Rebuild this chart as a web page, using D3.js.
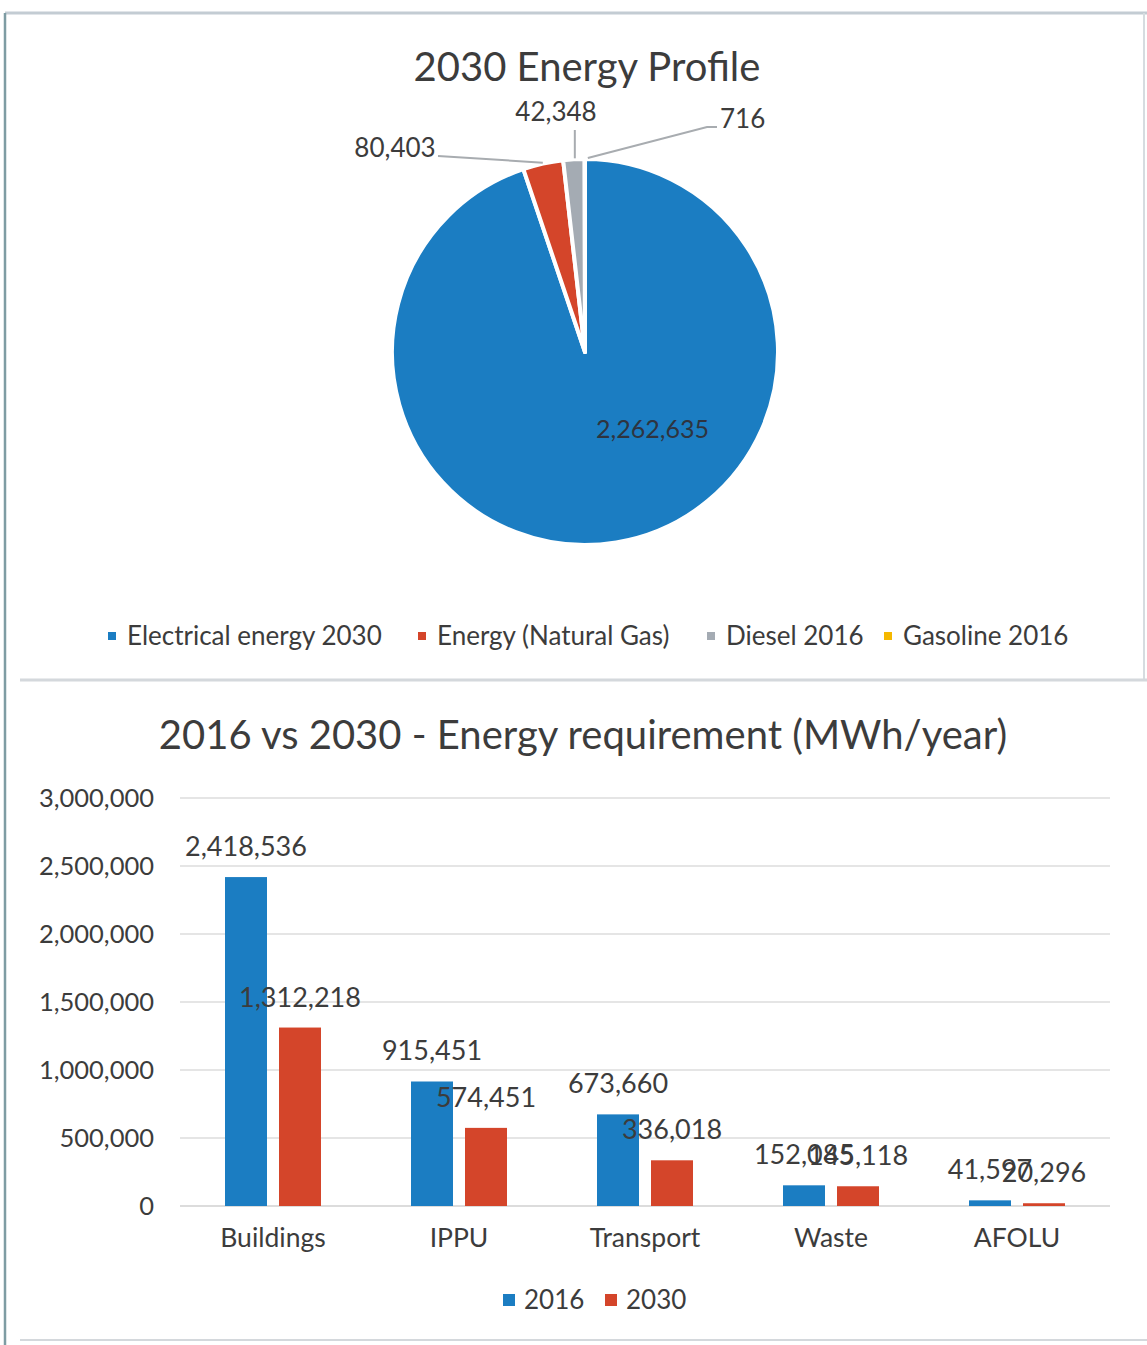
<!DOCTYPE html>
<html><head><meta charset="utf-8">
<script src="https://cdn.jsdelivr.net/npm/d3@7"></script>
<style>
html,body{margin:0;padding:0;background:#fff;}
svg{display:block;font-family:Lato,"Open Sans",sans-serif;}
</style></head>
<body>
<svg id="c" width="1147" height="1345"></svg>
<script>
// ---------- DATA ----------
const pieLabels = ["Electrical energy 2030", "Energy (Natural Gas)", "Diesel 2016", "Gasoline 2016"];
const pieValues = [2262635, 80403, 42348, 716];
const pieColors = ["#1b7dc2", "#d4452a", "#a4abb3", "#f5b800"];

const categories = ["Buildings", "IPPU", "Transport", "Waste", "AFOLU"];
const series = ["2016", "2030"];
const values2016 = [2418536, 915451, 673660, 152085, 41597];
const values2030 = [1312218, 574451, 336018, 145118, 20296];
const seriesColors = ["#1b7dc2", "#d4452a"];
const yTicks = [0, 500000, 1000000, 1500000, 2000000, 2500000, 3000000];

const svg = d3.select("#c");
const txt = "#3c3c3c";
const fmt = d3.format(",");
const FF = "Lato,'Open Sans',sans-serif";

// ---------- FRAME ----------
svg.append("line").attr("x1",5).attr("x2",1147).attr("y1",13).attr("y2",13).attr("stroke","#c3ccd3").attr("stroke-width",3);
svg.append("line").attr("x1",5).attr("x2",5).attr("y1",13).attr("y2",1345).attr("stroke","#7e9ca3").attr("stroke-width",2.5);
svg.append("line").attr("x1",1144).attr("x2",1144).attr("y1",13).attr("y2",680).attr("stroke","#d6dce0").attr("stroke-width",2);
svg.append("line").attr("x1",20).attr("x2",1147).attr("y1",680).attr("y2",680).attr("stroke","#d4d8dc").attr("stroke-width",3);
svg.append("line").attr("x1",20).attr("x2",1147).attr("y1",1340).attr("y2",1340).attr("stroke","#d4d8dc").attr("stroke-width",2);

// ---------- PIE ----------
svg.append("text").attr("x",587).attr("y",81).attr("text-anchor","middle")
  .attr("font-size",40).attr("fill",txt).text("2030 Energy Profile");

const cx = 585, cy = 352, R = 193;
const pie = d3.pie().sort(null).value(d=>d)(pieValues);
const arc = d3.arc().innerRadius(0).outerRadius(R);
const gp = svg.append("g").attr("transform",`translate(${cx},${cy})`);
gp.selectAll("path").data(pie).join("path")
  .attr("d",arc).attr("fill",(d,i)=>pieColors[i])
  .attr("stroke","#fff").attr("stroke-width",4).attr("stroke-linejoin","round");

// big label inside
gp.append("text").attr("x",R*0.35).attr("y",R*0.40+9).attr("text-anchor","middle")
  .attr("font-size",25).attr("fill","#2e3440").text(fmt(pieValues[0]));

// outside labels with leader lines
const outer = d3.arc().innerRadius(R+1).outerRadius(R+1);
const labelPos = [null, {x:-190,y:-204,anchor:"middle", lx:-147, ly:-196},
                        {x:-29,y:-240,anchor:"middle", lx:-10, ly:-222},
                        {x:135,y:-233,anchor:"start", lx:132, ly:-225}];
pie.forEach((d,i)=>{
  if(i===0) return;
  const p = outer.centroid(d);
  const L = labelPos[i];
  let pts;
  if(i===3) pts = [[L.lx,L.ly],[L.lx-10,L.ly],[p[0]+3,p[1]]];
  else if(i===2) pts = [[p[0]+1,L.ly],[p[0]+1,p[1]]];
  else pts = [[L.lx,L.ly],[p[0],p[1]]];
  gp.append("path").attr("d",d3.line()(pts)).attr("fill","none")
    .attr("stroke","#a8acb0").attr("stroke-width",2);
  gp.append("text").attr("x",L.x).attr("y",L.y+9).attr("text-anchor",L.anchor)
    .attr("font-size",26).attr("fill",txt).text(fmt(d.data));
});

// pie legend
const legX = [108, 418, 707, 884];
const lg = svg.append("g");
pieLabels.forEach((l,i)=>{
  lg.append("rect").attr("x",legX[i]).attr("y",632).attr("width",8).attr("height",8).attr("fill",pieColors[i]);
  lg.append("text").attr("x",legX[i]+19).attr("y",645).attr("font-size",26).attr("fill",txt).text(l);
});

// ---------- BAR CHART ----------
svg.append("text").attr("x",583).attr("y",749).attr("text-anchor","middle")
  .attr("font-size",40).attr("fill",txt).text("2016 vs 2030 - Energy requirement (MWh/year)");

const y = d3.scaleLinear().domain([0,3000000]).range([1206,798]);
const x0 = d3.scaleBand().domain(categories).range([180,1110]);
const x1 = d3.scaleBand().domain(series).range([0,96]).paddingInner(12/54);
const gx = x0.bandwidth();

// gridlines
svg.append("g").selectAll("line").data(yTicks).join("line")
  .attr("x1",180).attr("x2",1110).attr("y1",d=>y(d)).attr("y2",d=>y(d))
  .attr("stroke",(d)=> d===0 ? "#d0d0d0" : "#dcdcdc").attr("stroke-width",1.5);

// y axis labels
const yAxis = d3.axisLeft(y).tickValues(yTicks).tickFormat(fmt).tickSize(0).tickPadding(0);
const ya = svg.append("g").attr("transform","translate(154,0)").call(yAxis);
ya.select(".domain").remove();
ya.selectAll("text").attr("font-size",25.5).attr("fill",txt).attr("font-family",FF).attr("dy","0.35em");

// bars
const rows = categories.map((c,i)=>({cat:c, vals:[values2016[i], values2030[i]]}));
const groups = svg.append("g").selectAll("g").data(rows).join("g")
  .attr("transform",d=>`translate(${x0(d.cat)+gx/2-48},0)`);
groups.selectAll("rect").data(d=>d.vals.map((v,j)=>({s:series[j],v,j}))).join("rect")
  .attr("x",d=>x1(d.s)).attr("width",x1.bandwidth())
  .attr("y",d=>y(d.v)).attr("height",d=>y(0)-y(d.v))
  .attr("fill",d=>seriesColors[d.j]);
groups.selectAll("text.v").data(d=>d.vals.map((v,j)=>({s:series[j],v,j}))).join("text")
  .attr("class","v")
  .attr("x",d=>x1(d.s)+x1.bandwidth()/2).attr("y",d=>y(d.v)-21)
  .attr("text-anchor","middle").attr("font-size",27).attr("fill",txt).text(d=>fmt(d.v));

// x axis labels
const xa = svg.append("g").attr("transform","translate(0,1206)")
  .call(d3.axisBottom(x0).tickSize(0).tickPadding(0));
xa.select(".domain").remove();
xa.selectAll("text").attr("font-size",26.5).attr("fill",txt).attr("font-family",FF).attr("dy","1.55em");

// legend
const bl = svg.append("g");
series.forEach((s,i)=>{
  const lx = 503 + i*102;
  bl.append("rect").attr("x",lx).attr("y",1294).attr("width",12).attr("height",12).attr("fill",seriesColors[i]);
  bl.append("text").attr("x",lx+21).attr("y",1309).attr("font-size",26).attr("fill",txt).text(s);
});
</script>
</body></html>
